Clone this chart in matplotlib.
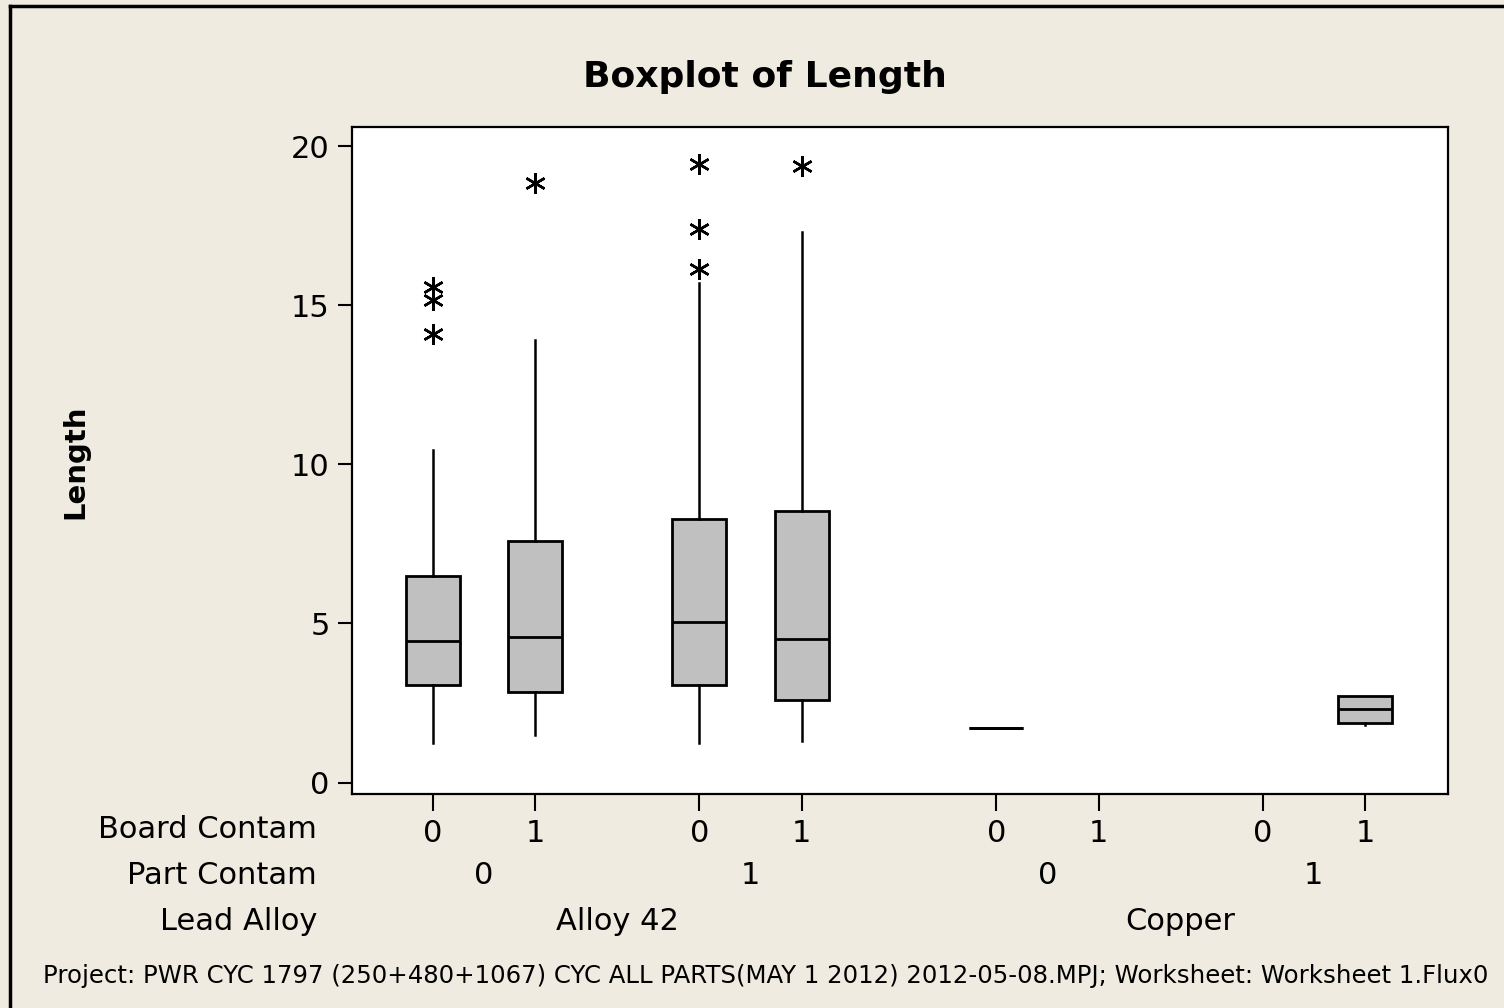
import matplotlib
matplotlib.use("Agg")
import matplotlib.pyplot as plt
from matplotlib.lines import Line2D
from matplotlib.transforms import blended_transform_factory

plt.rcParams['font.family'] = ['DejaVu Sans']

# ---- data ----
board_contam = ['0', '1', '0', '1', '0', '1', '0', '1']
part_contam = ['0', '1', '0', '1']
lead_alloy = ['Alloy 42', 'Copper']

# per group: None means no data in that cell
q1 = [3.05, 2.85, 3.05, 2.58, 1.72, None, None, 1.87]
med = [4.44, 4.56, 5.03, 4.50, 1.72, None, None, 2.31]
q3 = [6.48, 7.60, 8.27, 8.52, 1.72, None, None, 2.71]
whislo = [1.25, 1.50, 1.25, 1.32, 1.72, None, None, 1.82]
whishi = [10.45, 13.90, 15.70, 17.31, 1.72, None, None, 2.71]
outliers = [[15.58, 15.16, 14.10], [18.85], [19.45, 17.40, 16.13], [19.37],
            [], [], [], []]

# ---- layout ----
positions = [0, 1, 2.6, 3.6, 5.5, 6.5, 8.1, 9.1]
W, H = 1504, 1008
BG = '#EFEBE0'

fig = plt.figure(figsize=(W / 100, H / 100), dpi=100, facecolor=BG)
ax = fig.add_axes([352 / W, 1 - 794 / H, (1448 - 352) / W, (794 - 127) / H])
ax.set_facecolor('white')

stats, pos = [], []
for i in range(len(positions)):
    if med[i] is None:
        continue
    stats.append(dict(med=med[i], q1=q1[i], q3=q3[i], whislo=whislo[i],
                      whishi=whishi[i], fliers=outliers[i]))
    pos.append(positions[i])

ax.bxp(stats, positions=pos, widths=0.53, showcaps=False, patch_artist=True,
       boxprops=dict(facecolor='#C0C0C0', edgecolor='black', linewidth=2),
       medianprops=dict(color='black', linewidth=2),
       whiskerprops=dict(color='black', linewidth=1.8),
       flierprops=dict(marker=(6, 2, 0), markersize=15, markeredgecolor='black',
                       markerfacecolor='black', markeredgewidth=1.8, linestyle='none'))

ax.set_xlim(-0.79, 9.91)
ax.set_ylim(-0.36, 20.6)
ax.set_yticks([0, 5, 10, 15, 20])
ax.set_yticklabels(['0', '5', '10', '15', '20'])
ax.set_xticks(positions)
ax.set_xticklabels(board_contam)
for s in ax.spines.values():
    s.set_linewidth(1.6)
ax.tick_params(axis='y', length=10, width=1.5, labelsize=22, pad=6)
ax.tick_params(axis='x', length=12, width=1.5, labelsize=22, pad=6)

trans = blended_transform_factory(ax.transData, fig.transFigure)
fs = 22
# Part Contam row
for j, lab in enumerate(part_contam):
    xc = (positions[2 * j] + positions[2 * j + 1]) / 2
    ax.text(xc, 1 - 875 / H, lab, transform=trans, ha='center', va='center', fontsize=fs)
# Lead Alloy row
for j, lab in enumerate(lead_alloy):
    xc = (positions[4 * j] + positions[4 * j + 3]) / 2
    ax.text(xc, 1 - 921 / H, lab, transform=trans, ha='center', va='center', fontsize=fs)

# row labels
for lab, yy in [('Board Contam', 829), ('Part Contam', 875), ('Lead Alloy', 921)]:
    fig.text(317 / W, 1 - yy / H, lab, ha='right', va='center', fontsize=fs)

fig.text(765 / W, 1 - 77 / H, 'Boxplot of Length', ha='center', va='center',
         fontsize=26, fontweight='bold')
fig.text(75 / W, 1 - 462 / H, 'Length', ha='center', va='center', rotation=90,
         fontsize=21, fontweight='bold')
fig.text(766 / W, 1 - 976 / H,
         'Project: PWR CYC 1797 (250+480+1067) CYC ALL PARTS(MAY 1 2012) 2012-05-08.MPJ; Worksheet: Worksheet 1.Flux0',
         ha='center', va='center', fontsize=17.6)

# outer frame (top and left edges visible)
fig.add_artist(Line2D([9.5 / W, 1.0], [1 - 6 / H, 1 - 6 / H], transform=fig.transFigure,
                      color='black', linewidth=2.5))
fig.add_artist(Line2D([9.5 / W, 9.5 / W], [0.0, 1 - 6 / H], transform=fig.transFigure,
                      color='black', linewidth=2.5))

fig.savefig('out.png', dpi=100, facecolor=BG)
